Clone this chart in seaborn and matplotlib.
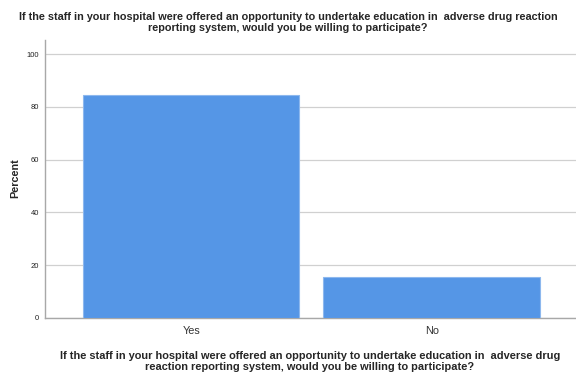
import matplotlib
matplotlib.use("Agg")
import matplotlib.pyplot as plt
import seaborn as sns
import pandas as pd

categories = ["Yes", "No"]
percent = [84.5, 15.5]
question = ("If the staff in your hospital were offered an opportunity to undertake education in  adverse drug reaction\n"
            "reporting system, would you be willing to participate?")
question_x = ("If the staff in your hospital were offered an opportunity to undertake education in  adverse drug\n"
              "reaction reporting system, would you be willing to participate?")
yticks = [0, 20, 40, 60, 80, 100]

sns.set_style("white")
plt.rcParams["font.family"] = ["Liberation Sans", "DejaVu Sans"]

df = pd.DataFrame({"answer": categories, "Percent": percent})

fig = plt.figure(figsize=(5.76, 3.74), dpi=100)
ax = fig.add_axes([0.078, 0.150, 0.922, 0.743])

sns.barplot(data=df, x="answer", y="Percent", order=categories, color="#5596e6",
            width=0.9, saturation=1, edgecolor="#8db8ee", linewidth=0.8, ax=ax, zorder=3)

ax.set_xlim(-0.608, 1.6)
ax.set_ylim(0, 105.3)
ax.set_yticks(yticks)
ax.yaxis.grid(True, color="#d0d0d0", linewidth=0.9, zorder=0)
ax.set_axisbelow(True)

for side in ["top", "right"]:
    ax.spines[side].set_visible(False)
for side in ["left", "bottom"]:
    ax.spines[side].set_color("#a8a8a8")
    ax.spines[side].set_linewidth(1.0)

ax.tick_params(axis="y", labelsize=5.5, length=0, pad=4, colors="#222222")
ax.tick_params(axis="x", labelsize=7.8, length=0, pad=6, colors="#333333")

ax.set_ylabel("")
ax.set_xlabel("")
fig.text(0.026, 0.524, "Percent", rotation=90, ha="center", va="center",
         fontsize=7.8, fontweight="bold")
# bottom caption centred under the plotting area
fig.text(0.538, 0.005, question_x, ha="center", va="bottom", fontsize=7.9,
         fontweight="bold", linespacing=1.15)
fig.text(0.5, 0.94, question, ha="center", va="center", fontsize=7.8,
         fontweight="bold", linespacing=1.2)

fig.savefig("out.png", dpi=100)
